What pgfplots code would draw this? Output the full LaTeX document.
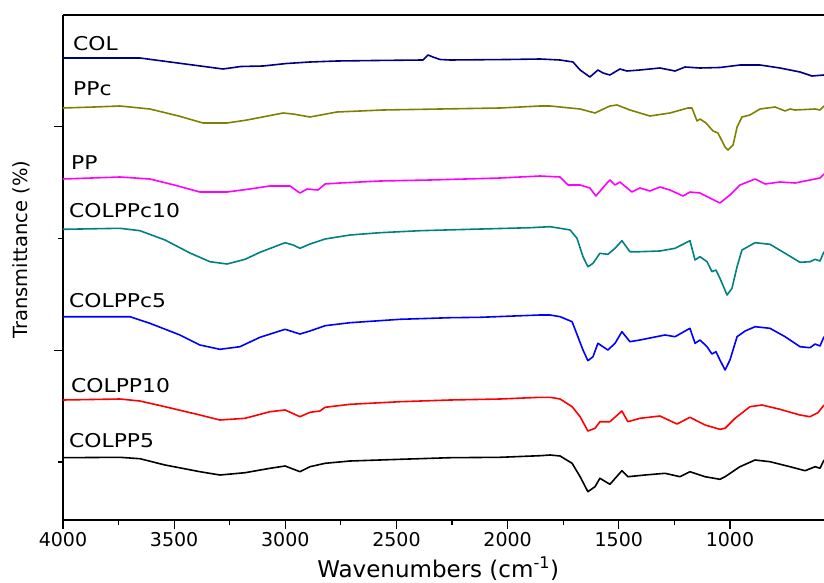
\documentclass[border=0pt]{standalone}
\usepackage{pgfplots}
\pgfplotsset{compat=1.18}
\usepackage{fontspec}
\setmainfont{DejaVu Sans}
\newfontfamily\serlabel[FakeStretch=1.15]{DejaVu Sans}
\usetikzlibrary{calc}

\definecolor{colnavy}{RGB}{0,0,128}
\definecolor{cololive}{RGB}{128,128,0}
\definecolor{colmag}{RGB}{255,0,255}
\definecolor{colteal}{RGB}{0,128,128}
\definecolor{colblue}{RGB}{0,0,255}
\definecolor{colred}{RGB}{255,0,0}

\begin{document}
\begin{tikzpicture}
\begin{axis}[
    name=ax,
    scale only axis,
    width=761pt, height=505pt,
    x dir=reverse,
    xmin=577, xmax=4000,
    ymin=7, ymax=512,
    axis x line*=box,
    axis y line*=left,
    axis line style={line width=1.4pt},
    xtick={1000,1500,2000,2500,3000,3500,4000},
    minor x tick num=1,
    xtick pos=left,
    ytick={176.3,400.3},
    minor ytick={65,288.7},
    yticklabels={},
    tick align=outside,
    major tick length=9pt,
    minor tick length=5pt,
    every tick/.style={black, line width=1.2pt},
    /pgf/number format/1000 sep={},
    /pgf/number format/assume math mode=true,
    xticklabel style={font=\fontsize{19}{19}\selectfont},
    xlabel={Wavenumbers (cm\textsuperscript{-1})},
    xlabel style={font=\fontsize{23}{23}\selectfont, at={(axis description cs:0.493,-0.097)}, anchor=center},
    ylabel={Transmittance (\%)},
    ylabel style={font=\fontsize{19.5}{19.5}\selectfont, at={(axis description cs:-0.0545,0.535)}, anchor=center, rotate=0},
    every axis plot/.append style={line width=1.6pt, line join=round},
    clip=false,
]
% COL
\addplot[colnavy] coordinates {
(4000,469) (3654,469) (3450,463) (3280,458) (3200,460.5) (3100,461) (2995,463.5) (2889,465) (2768,466) (2597,466.5)
(2381,467) (2358,472) (2336,470) (2304,467.5) (2259,467) (2000,467.5) (1854,468) (1764,467) (1706,465) (1674,457)
(1630,450) (1594,457) (1571,454) (1540,452) (1495,458) (1463,456) (1405,457) (1315,459) (1247,456) (1202,460)
(1135,459) (1045,459.5) (955,462) (865,462) (775,459) (685,455) (631,451) (577,452)
};
% PPc
\addplot[cololive] coordinates {
(4000,419) (3860,420) (3744,421) (3609,418) (3480,411) (3370,404) (3262,404) (3172,407) (3010,414) (2965,413)
(2889,410) (2768,415) (2561,417) (2304,418) (2034,419) (1854,421) (1809,421) (1674,418) (1607,414) (1540,421)
(1508,422) (1450,417) (1360,411) (1270,414) (1189,419) (1171,419) (1148,406) (1135,408) (1108,404) (1076,396)
(1054,394) (1022,380) (1009,377) (986,382) (968,400) (946,410) (910,412) (865,418) (797,420) (752,416)
(730,418) (707,417) (617,418) (595,417) (577,421)
};
% PP
\addplot[colmag] coordinates {
(4000,348) (3744,350) (3609,348) (3500,342) (3384,335) (3262,335) (3160,338) (3069,341) (2979,341) (2934,334)
(2902,338) (2853,337) (2821,343) (2754,344) (2574,346) (2349,347) (2034,349) (1854,351) (1764,350) (1728,342)
(1674,342) (1630,339) (1603,331) (1553,344) (1540,347) (1517,342) (1495,345) (1441,335) (1405,339) (1360,336)
(1315,340) (1270,337) (1211,331) (1180,335) (1135,334) (1090,329) (1045,324) (1000,332) (955,342) (887,348)
(842,343) (775,345) (707,344) (640,347) (595,349) (577,353)
};
% COLPPc10
\addplot[colteal] coordinates {
(4000,297.7) (3744,298.7) (3654,296.3) (3541,287) (3429,274) (3339,265.3) (3262,263) (3181,267.7) (3114,274.7) (3001,284.3)
(2965,282) (2934,278.7) (2889,283) (2821,288) (2709,292) (2574,294.3) (2394,296.3) (2169,297.7) (1899,299.3) (1809,300.3)
(1764,298.7) (1719,297) (1688,288.7) (1661,270.3) (1639,260.3) (1616,263.7) (1585,273.7) (1549,272.7) (1517,278.7) (1486,286.3)
(1450,275.3) (1405,275.3) (1315,276) (1247,278.7) (1180,286.3) (1157,267) (1135,270.3) (1103,265.3) (1081,255.3) (1063,257)
(1045,248.7) (1013,232) (991,238.7) (968,260.3) (946,277) (887,284.3) (820,282.7) (752,273.7) (685,264.7) (640,265.3)
(617,267.7) (595,266) (577,275.3)
};
% COLPPc5
\addplot[colblue] coordinates {
(4000,210.3) (3699,210.3) (3609,203.7) (3474,192) (3384,182) (3294,177.7) (3204,180.3) (3114,189.7) (3001,197.7) (2934,193)
(2889,196) (2821,201.3) (2709,204.3) (2484,207.7) (2259,209.3) (2124,209.7) (1854,212) (1809,212) (1764,210.3) (1710,205.3)
(1684,190.3) (1661,177) (1639,166.3) (1616,170.3) (1594,183.7) (1549,177) (1517,183.7) (1486,195.3) (1450,185.3) (1405,187)
(1292,192) (1247,190.3) (1180,198.7) (1157,183.7) (1135,187) (1103,180.3) (1081,173) (1063,175.3) (1045,167) (1022,157)
(1000,167) (968,190.3) (932,196) (887,200.3) (820,198.7) (752,190.3) (685,180.3) (640,179.3) (617,183) (595,181)
(577,190.3)
};
% COLPP10
\addplot[colred] coordinates {
(4000,127) (3744,128) (3654,126) (3541,120.3) (3384,112) (3294,107) (3181,108.7) (3069,115.3) (3001,117) (2934,110.3)
(2889,114.7) (2844,116) (2821,119.7) (2709,122.7) (2484,125.3) (2259,127) (2034,128) (1854,129.7) (1809,129.7) (1764,128)
(1710,120.3) (1674,110.3) (1639,96) (1607,98.7) (1585,105.3) (1540,105.3) (1486,116) (1459,105.3) (1405,108.7) (1315,111)
(1238,103) (1180,109.7) (1112,102) (1045,97.7) (1022,98.7) (977,108.7) (910,120.3) (856,122) (775,117.7) (685,112)
(640,110.3) (604,114.3) (577,122)
};
% COLPP5
\addplot[black] coordinates {
(4000,69.3) (3744,69.7) (3654,68.3) (3541,62) (3384,55.3) (3294,52) (3181,54.3) (3069,58.7) (3001,61) (2934,55.3)
(2889,60.3) (2821,63.7) (2709,66) (2484,67.7) (2259,69.3) (2034,69.7) (1854,71.3) (1809,72) (1764,71) (1710,63.7)
(1674,50.3) (1639,35.3) (1607,40.3) (1585,48.7) (1540,42.7) (1486,56.3) (1459,50.3) (1382,52) (1292,53.7) (1225,50.3)
(1180,55.3) (1112,50.3) (1045,47.7) (1022,50.3) (955,60.3) (887,67) (820,65.3) (730,60.3) (662,56.3) (617,60.3)
(595,58.7) (577,67)
};
\begin{scope}[every node/.style={anchor=west, inner sep=0pt, font=\serlabel\fontsize{19}{19}\selectfont}]
\node at (axis cs:3955,483.5) {COL};
\node at (axis cs:3955,438.5) {PPc};
\node at (axis cs:3964,364.5) {PP};
\node at (axis cs:3973,316) {COLPPc10};
\node at (axis cs:3973,226) {COLPPc5};
\node at (axis cs:3964,141.5) {COLPP10};
\node at (axis cs:3973,86) {COLPP5};
\end{scope}
\end{axis}
\pgfresetboundingbox
\path[use as bounding box] ($(ax.south west)+(-63pt,-62pt)$) rectangle ($(ax.north east)+(0pt,15pt)$);
\end{tikzpicture}
\end{document}
